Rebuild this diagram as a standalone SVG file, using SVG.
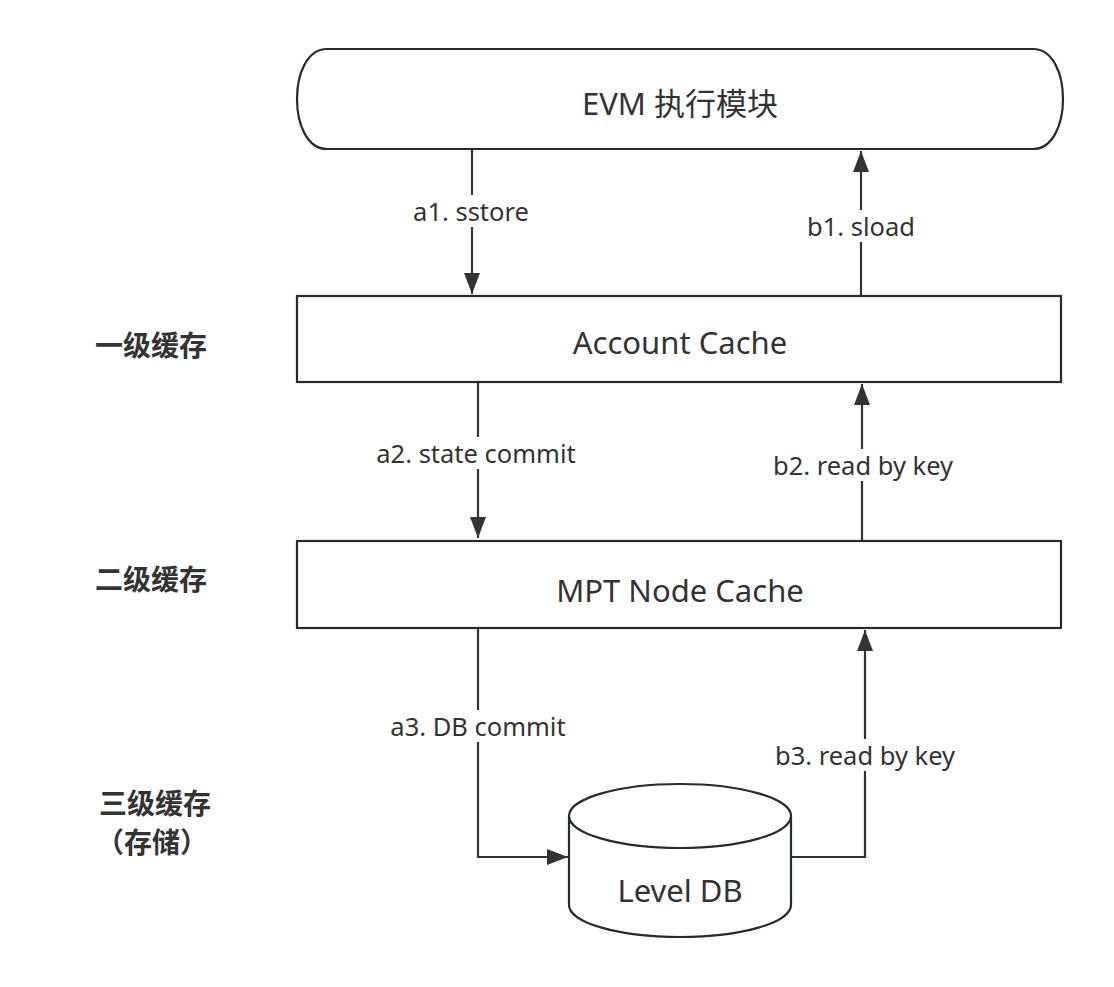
<svg xmlns="http://www.w3.org/2000/svg" width="1114" height="987" viewBox="0 0 1114 987">
<style>
.node{fill:#fff;stroke:#262b30;stroke-width:2.2}
.nt{font-family:"Noto Sans","Noto Sans CJK SC",sans-serif;font-size:31px;fill:#333;text-anchor:middle}
.el{font-family:"Noto Sans","Noto Sans CJK SC",sans-serif;font-size:25.5px;fill:#333;text-anchor:middle}
.lv{font-family:"Noto Sans CJK SC","Noto Sans",sans-serif;font-size:28px;font-weight:bold;fill:#333;text-anchor:middle}
.edge{fill:none;stroke:#333;stroke-width:2.2}
.bg{fill:#fff}
</style>
<defs>
<marker id="arr" markerUnits="userSpaceOnUse" markerWidth="22" markerHeight="16" refX="21" refY="8" orient="auto">
<path d="M0,0 L21,8 L0,16 z" fill="#333"/>
</marker>
</defs>
<rect width="1114" height="987" fill="#fff"/>
<g id="levels">
<text class="lv" x="151" y="356">一级缓存</text>
<text class="lv" x="151" y="590">二级缓存</text>
<text class="lv" x="155" y="814">三级缓存</text>
<text class="lv" x="152" y="853">（存储）</text>
</g>
<g id="connectors">
<path class="edge" d="M472,149 V294" marker-end="url(#arr)"/>
<path class="edge" d="M861,296 V151" marker-end="url(#arr)"/>
<path class="edge" d="M478,383 V538" marker-end="url(#arr)"/>
<path class="edge" d="M862,540 V384" marker-end="url(#arr)"/>
<path class="edge" d="M478,628 V857 H568" marker-end="url(#arr)"/>
<path class="edge" d="M791,857 H865 V630" marker-end="url(#arr)"/>
<rect class="bg" x="405" y="195" width="132" height="32"/>
<text class="el" x="471" y="221">a1. sstore</text>
<rect class="bg" x="800" y="210" width="122" height="32"/>
<text class="el" x="861" y="236">b1. sload</text>
<rect class="bg" x="362" y="437" width="228" height="32"/>
<text class="el" x="476" y="463">a2. state commit</text>
<rect class="bg" x="759" y="449" width="208" height="32"/>
<text class="el" x="863" y="475">b2. read by key</text>
<rect class="bg" x="378" y="710" width="200" height="32"/>
<text class="el" x="478" y="736">a3. DB commit</text>
<rect class="bg" x="761" y="739" width="208" height="32"/>
<text class="el" x="865" y="765">b3. read by key</text>
</g>
<g id="evm">
<path class="node" d="M327,49 H1033 C1073,49 1073,149 1033,149 H327 C287,149 287,49 327,49 Z"/>
<text class="nt" x="680" y="115">EVM 执行模块</text>
</g>
<g id="account-cache">
<rect class="node" x="297" y="296" width="764" height="86"/>
<text class="nt" x="680" y="354">Account Cache</text>
</g>
<g id="mpt-node-cache">
<rect class="node" x="297" y="541" width="764" height="87"/>
<text class="nt" x="680" y="602">MPT Node Cache</text>
</g>
<g id="level-db">
<path class="node" d="M569,816 V905 A111,32 0 0 0 791,905 V816 A111,32 0 0 0 569,816 A111,32 0 0 0 791,816"/>
<text class="nt" x="680" y="902">Level DB</text>
</g>
</svg>
